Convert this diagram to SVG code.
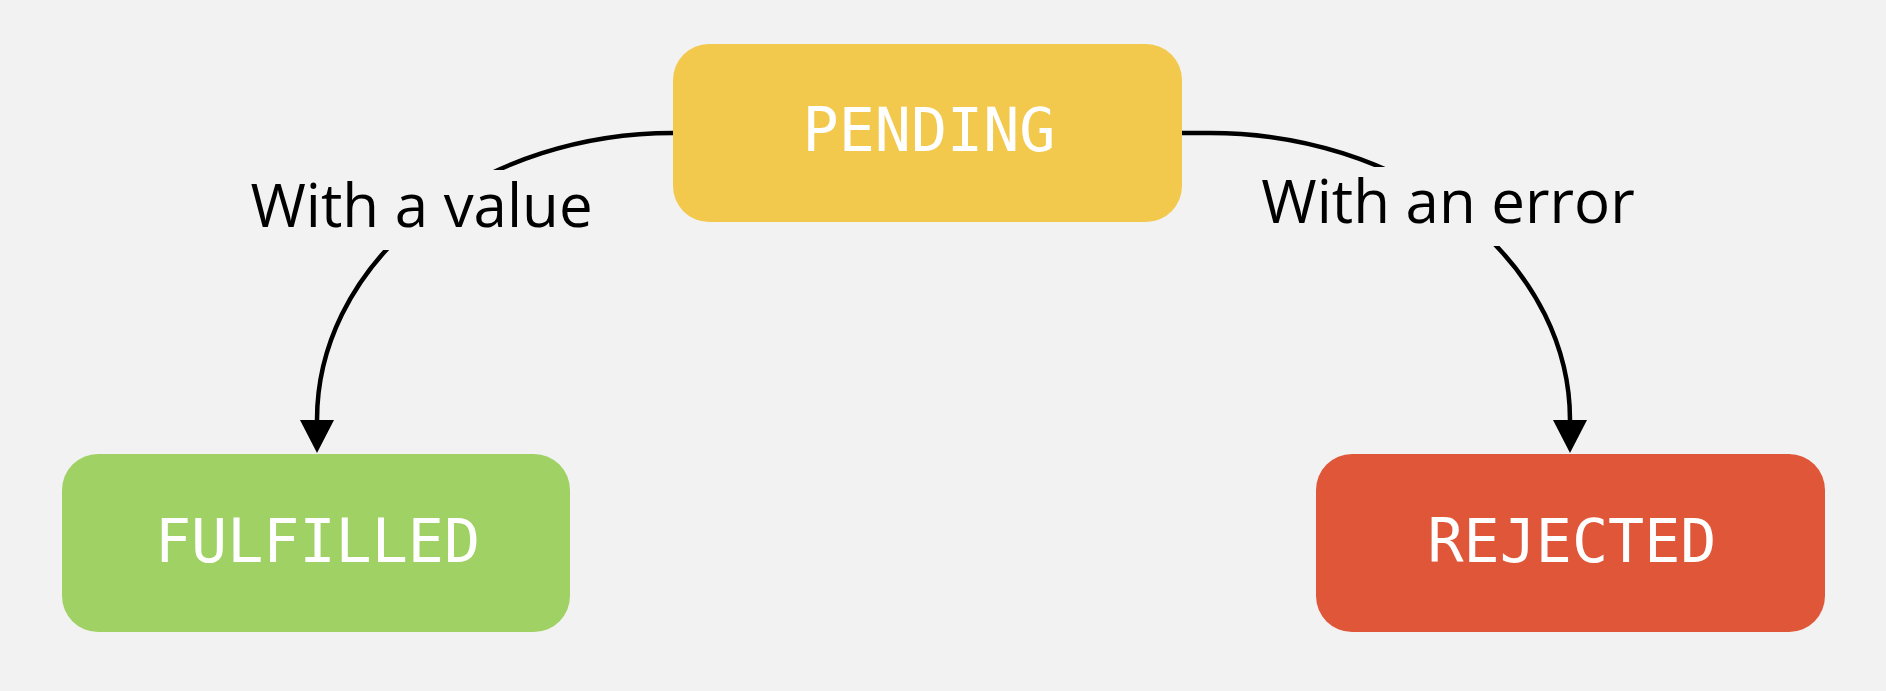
<svg xmlns="http://www.w3.org/2000/svg" width="1886" height="691" viewBox="0 0 1886 691">
<defs>
<style>
.node-text{font-family:"DejaVu Sans Mono","Liberation Mono",monospace;font-size:60px;fill:#ffffff;text-anchor:middle}
.label{font-family:"Open Sans","Noto Sans","Liberation Sans",sans-serif;font-size:60px;fill:#000000;text-anchor:middle}
.edge{fill:none;stroke:#000000;stroke-width:4.5}
.label-bg{fill:#f2f2f2}
</style>
<marker id="arrow" markerUnits="userSpaceOnUse" markerWidth="34" markerHeight="34" refX="0" refY="17" orient="auto" viewBox="0 0 34 34">
<path d="M0,0 L33,17 L0,34 Z" fill="#000000"/>
</marker>
</defs>
<rect x="0" y="0" width="1886" height="691" fill="#f2f2f2"/>
<g id="connectors">
<g id="edge-fulfilled">
<path class="edge" d="M673,133 A356,287 0 0 0 317,420" marker-end="url(#arrow)"/>
<rect class="label-bg" x="240" y="170" width="362" height="80"/>
<text class="label" x="421.5" y="227">With a value</text>
</g>
<g id="edge-rejected">
<path class="edge" d="M1182,133 L1210,133 A360,287 0 0 1 1570,420" marker-end="url(#arrow)"/>
<rect class="label-bg" x="1250" y="167" width="396" height="79"/>
<text class="label" x="1448" y="223">With an error</text>
</g>
</g>
<g id="node-pending">
<rect x="673" y="44" width="509" height="178" rx="36" ry="36" fill="#f2c94c"/>
<text class="node-text" x="929" y="151">PENDING</text>
</g>
<g id="node-fulfilled">
<rect x="62" y="454" width="508" height="178" rx="36" ry="36" fill="#a0d165"/>
<text class="node-text" x="317.5" y="562">FULFILLED</text>
</g>
<g id="node-rejected">
<rect x="1316" y="454" width="509" height="178" rx="36" ry="36" fill="#e05638"/>
<text class="node-text" x="1572" y="562">REJECTED</text>
</g>
</svg>
